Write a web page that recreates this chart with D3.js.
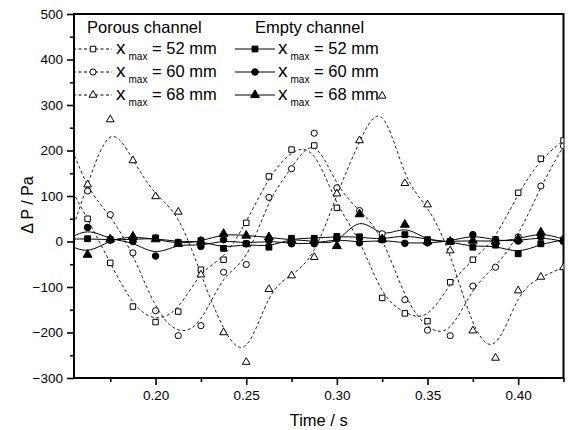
<!DOCTYPE html>
<html><head><meta charset="utf-8">
<script src="https://cdn.jsdelivr.net/npm/d3@7"></script>
<style>body{margin:0;background:#fff}svg{display:block}text{font-family:"Liberation Sans",Arial,Helvetica,sans-serif;fill:#000}</style>
</head><body><svg id="c" width="568" height="430"></svg>
<script>
// Time (s); first point lies left of the visible axis range (lead-in of the fitted curve)
const times = [0.15,0.1625,0.175,0.1875,0.20,0.2125,0.225,0.2375,0.25,0.2625,0.275,0.2875,0.30,0.3125,0.325,0.3375,0.35,0.3625,0.375,0.3875,0.40,0.4125,0.425];
const porous52 = [140,50,-47,-143,-177,-154,-62,-40,41,143,202,211,74,10,-124,-158,-175,-89.5,-40,5,107,182,222];
const porous60 = [245,111,59,-25,-152,-207,-185,-67.5,-50.6,97,160,238,118,68,17,-128,-195,-207,-98,-56.5,10,122,210];
const porous68 = [-20,125,268,178,99,65,-73,-200,-265,-105,-75,-34.5,105,222,320,128,81,-20,-196,-256,-108,-78,-57];
const empty52 = [5,6,4,4,8,-2,2,-15,-5,-12.5,7,7,11,10,4,15,4,0,-12.5,-8,-27,-5,3];
const empty60 = [0,31,3,0,-32,-4,-11,4,-5,2,-5,-5,6,-3,4,-4,-3,0,15,2,1,10,0];
const empty68 = [-3,-29,5,11,5,-5,0,17,13,9.5,3,2,-10,60,5,37,0,0,2,0,5,20,5];
const xTicks = [0.20,0.25,0.30,0.35,0.40];
const xMinor = [0.175,0.225,0.275,0.325,0.375,0.425];
const yTicks = [-300,-200,-100,0,100,200,300,400,500];
const yMinor = [-250,-150,-50,50,150,250,350,450];
const legendLabels = ["52 mm","60 mm","68 mm"];

const svg = d3.select("#c");
const L=74, R=563.5, T=14, B=378;
const x = d3.scaleLinear().domain([0.155,0.425]).range([L,R]);
const y = d3.scaleLinear().domain([-300,500]).range([B,T]);

svg.append("defs").append("clipPath").attr("id","clip")
  .append("rect").attr("x",L).attr("y",T).attr("width",R-L).attr("height",B-T);

const gx = svg.append("g").attr("transform",`translate(0,${B})`)
  .call(d3.axisBottom(x).tickValues(xTicks).tickFormat(d3.format(".2f")).tickSize(7).tickPadding(5));
const gxm = svg.append("g").attr("transform",`translate(0,${B})`)
  .call(d3.axisBottom(x).tickValues(xMinor).tickFormat("").tickSize(4));
const gy = svg.append("g").attr("transform",`translate(${L},0)`)
  .call(d3.axisLeft(y).tickValues(yTicks).tickFormat(d3.format("d")).tickSize(7).tickPadding(4));
const gym = svg.append("g").attr("transform",`translate(${L},0)`)
  .call(d3.axisLeft(y).tickValues(yMinor).tickFormat("").tickSize(4));
[gx,gxm,gy,gym].forEach(g=>{
  g.select(".domain").remove();
  g.selectAll(".tick line").attr("stroke","#000").attr("stroke-width",1.6);
  g.selectAll(".tick text").attr("font-size","13.5px").attr("font-family","Liberation Sans, Arial, sans-serif").attr("fill","#000");
});
svg.append("rect").attr("x",L).attr("y",T).attr("width",R-L).attr("height",B-T)
  .attr("fill","none").attr("stroke","#000").attr("stroke-width",2);

svg.append("text").attr("x",(L+R)/2).attr("y",426).attr("text-anchor","middle")
  .attr("font-size","16.5px").text("Time / s");
svg.append("text").attr("transform","translate(33,205) rotate(-90)").attr("text-anchor","middle")
  .attr("font-size","16px").text("Δ P / Pa");

const series = [
  {v:porous52, sym:d3.symbolSquare, fill:"#fff", dash:"3,2.5", size:30},
  {v:porous60, sym:d3.symbolCircle, fill:"#fff", dash:"3,2.5", size:30},
  {v:porous68, sym:d3.symbolTriangle, fill:"#fff", dash:"3,2.5", size:26},
  {v:empty52, sym:d3.symbolSquare, fill:"#000", dash:null, size:34},
  {v:empty60, sym:d3.symbolCircle, fill:"#000", dash:null, size:34},
  {v:empty68, sym:d3.symbolTriangle, fill:"#000", dash:null, size:34}
];
const plot = svg.append("g").attr("clip-path","url(#clip)");
const line = d3.line().curve(d3.curveBasis).x(d=>x(d[0])).y(d=>y(d[1]));
series.forEach(s=>{
  const pts = times.map((t,i)=>[t,s.v[i]]);
  plot.append("path").attr("d",line(pts)).attr("fill","none")
    .attr("stroke",s.dash?"#222":"#000").attr("stroke-width",1)
    .attr("stroke-dasharray",s.dash);
});
series.forEach(s=>{
  const pts = times.map((t,i)=>[t,s.v[i]]).filter(d=>d[0]>=0.16);
  plot.selectAll(null).data(pts).enter().append("path")
    .attr("d",d3.symbol().type(s.sym).size(s.size))
    .attr("transform",d=>`translate(${x(d[0])},${y(d[1])})`)
    .attr("fill",s.fill).attr("stroke","#000").attr("stroke-width",1);
});

svg.append("text").attr("x",87).attr("y",33).attr("font-size","16.5px").text("Porous channel");
svg.append("text").attr("x",255).attr("y",33).attr("font-size","16.5px").text("Empty channel");
const legendCols = [
  {x0:73, x1:112, mx:93, tx:116, set:[0,1,2]},
  {x0:235, x1:275, mx:255, tx:278, set:[3,4,5]}
];
const rowY = [49,72,95];
legendCols.forEach(c=>{
  c.set.forEach((si,r)=>{
    const s = series[si], yy=rowY[r];
    svg.append("line").attr("x1",c.x0).attr("x2",c.x1).attr("y1",yy).attr("y2",yy)
      .attr("stroke","#000").attr("stroke-width",1).attr("stroke-dasharray",s.dash);
    svg.append("path").attr("d",d3.symbol().type(s.sym).size(s.size))
      .attr("transform",`translate(${c.mx},${yy})`).attr("fill",s.fill).attr("stroke","#000");
    const t = svg.append("text").attr("x",c.tx).attr("y",yy+5).attr("font-size","16.5px");
    t.append("tspan").attr("font-size","19px").text("x");
    t.append("tspan").attr("font-size","10px").attr("dx",3).attr("dy",6).text("max");
    t.append("tspan").attr("dy",-6).text(" = "+legendLabels[r]);
  });
});
</script></body></html>
